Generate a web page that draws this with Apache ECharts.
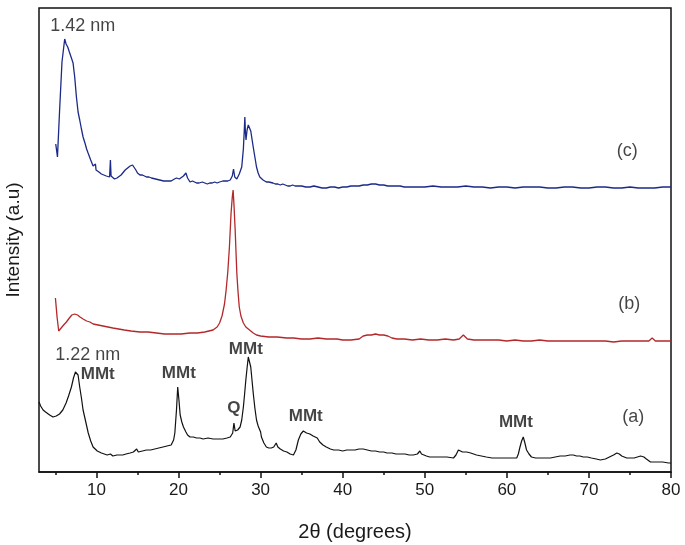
<!DOCTYPE html>
<html>
<head>
<meta charset="utf-8">
<script src="https://cdn.jsdelivr.net/npm/echarts@6/dist/echarts.min.js"></script>
<style>
html,body{margin:0;padding:0;background:#fff;}
#chart{width:685px;height:545px;}
</style>
</head>
<body>
<div id="chart"></div>
<script>
// 2θ (degrees) vs intensity (a.u.), traces offset vertically as in the figure
var traceC = [
[5.04,328],[5.25,315],[5.5,360],[5.8,410],[6.13,433],[6.3,428],[6.5,425],[6.7,420],[6.95,414],[7.15,409],[7.35,395],[7.56,375],[7.76,360],[7.96,352],[8.17,343],[8.37,335],[8.6,329],[8.8,323],[8.98,319],[9.3,312],[9.59,306],[9.8,304],[9.88,308],[9.95,302],[10.3,300],[10.6,298],[10.8,297],[11.2,296],[11.6,295],[11.7,312],[11.78,296],[12.0,294],[12.2,293],[12.5,294],[12.7,295],[13.0,297],[13.2,299],[13.5,302],[13.8,304],[14.1,306],[14.4,307],[14.6,305],[14.8,302],[15.0,299],[15.3,297],[15.6,297],[15.8,296],[16.1,295],[16.4,295],[16.7,294],[16.9,294],[17.2,293],[17.4,293],[17.7,292],[17.9,292],[18.2,291],[18.4,292],[18.7,291],[18.9,291],[19.1,291],[19.3,292],[19.5,293],[19.75,294],[19.9,293],[20.1,293],[20.3,293],[20.6,296],[20.9,299],[21.1,294],[21.4,290],[21.7,291],[21.9,290],[22.2,289],[22.5,289],[22.9,290],[23.2,289],[23.5,288],[23.8,289],[24.1,289],[24.4,290],[24.7,289],[25.0,290],[25.4,291],[25.7,291],[26.0,291],[26.3,292],[26.55,296],[26.7,303],[26.85,295],[27.1,293],[27.4,298],[27.7,305],[27.9,323],[28.0,340],[28.08,355],[28.15,340],[28.22,332],[28.35,342],[28.5,347],[28.65,345],[28.8,341],[28.95,333],[29.1,325],[29.3,315],[29.5,305],[29.7,299],[29.9,295],[30.1,293],[30.3,292],[30.7,290],[31.0,290],[31.2,289],[31.5,289],[31.8,288],[32.1,288],[32.4,287],[32.7,288],[33.0,287],[33.3,286],[33.6,286],[33.9,287],[34.2,286],[34.6,286],[35.0,286],[35.5,285],[36.0,285],[36.5,286],[37.0,285],[37.5,284],[38.0,284],[38.5,285],[39.0,285],[39.5,284],[40.0,285],[40.5,285],[41.0,286],[41.5,286],[42.0,286],[42.5,287],[43.0,287],[43.5,288],[44.0,288],[44.5,287],[45.0,287],[45.5,286],[46.0,286],[46.5,286],[47.0,286],[47.5,285],[48.0,285],[49.0,285],[50.0,285],[51.0,286],[52.0,285],[53.0,285],[54.0,285],[55.0,286],[56.0,285],[57.0,285],[58.0,284],[59.0,285],[60.0,285],[61.0,284],[62.0,285],[63.0,285],[64.0,285],[65.0,284],[66.0,284],[67.0,285],[68.0,285],[69.0,284],[70.0,284],[71.0,285],[72.0,285],[73.0,284],[74.0,284],[75.0,285],[76.0,284],[77.0,284],[78.0,284],[79.0,285],[80.0,285]
];
var traceB = [
[5.0,174],[5.2,155],[5.4,141],[5.7,144],[6.0,147],[6.34,150],[6.7,154],[7.0,157],[7.35,158],[7.7,157],[8.0,155],[8.37,153],[8.8,151],[9.2,150],[9.6,148],[10.2,147],[10.8,146],[11.4,145],[12.0,144],[12.7,143],[13.4,142],[14.2,141],[15.3,140],[16.3,140],[17.3,139],[18.3,138],[19.3,138],[20.3,138],[21.4,139],[22.3,139],[23.2,140],[24.2,142],[24.7,145],[25.0,149],[25.3,156],[25.6,168],[25.8,182],[26.0,200],[26.2,225],[26.4,259],[26.55,275],[26.65,282],[26.75,268],[26.9,242],[27.1,199],[27.25,180],[27.4,165],[27.6,156],[27.9,149],[28.2,145],[28.5,143],[28.8,141],[29.1,139],[29.5,137],[30.0,136],[31.0,135],[32.0,135],[33.2,134],[34.0,134],[35.0,133],[36.0,133],[37.0,134],[38.0,133],[39.3,133],[40.0,132],[41.0,132],[42.0,133],[42.5,136],[43.0,137],[43.5,137],[44.0,138],[44.5,137],[45.0,137],[45.5,136],[46.0,134],[46.6,133],[47.5,133],[48.5,132],[49.5,133],[50.5,132],[51.5,132],[52.5,133],[53.5,132],[54.2,133],[54.7,137],[55.2,133],[56.0,132],[57.0,132],[58.0,132],[59.0,132],[60.0,131],[61.0,132],[62.0,131],[63.0,131],[64.0,132],[65.0,131],[66.0,131],[67.0,131],[68.0,131],[69.0,131],[70.0,131],[71.0,131],[72.0,131],[73.0,130],[74.0,131],[75.0,131],[76.0,131],[77.3,131],[77.7,134],[78.1,131],[79.0,131],[80.0,131]
];
var traceA = [
[3.0,70],[3.2,66],[3.5,62],[3.8,60],[4.0,58],[4.3,57],[4.7,55],[5.1,56],[5.5,58],[5.9,62],[6.3,69],[6.6,76],[6.95,85],[7.2,94],[7.44,100],[7.6,98],[7.76,97],[7.96,85],[8.17,74],[8.37,62],[8.7,50],[9.0,39],[9.3,31],[9.59,25],[10.1,21],[10.6,19],[11.3,17],[11.7,18],[12.0,16],[12.5,17],[13.2,17],[13.6,18],[14.1,19],[14.5,20],[14.9,23],[15.1,20],[15.6,21],[16.1,22],[16.6,22],[17.1,23],[17.6,24],[18.1,25],[18.6,26],[19.1,27],[19.4,32],[19.55,39],[19.75,62],[19.9,85],[20.05,72],[20.2,57],[20.4,50],[20.6,45],[20.75,44],[20.9,40],[21.1,37],[21.4,35],[21.8,35],[22.2,34],[22.6,34],[23.0,33],[23.6,34],[24.2,33],[24.8,33],[25.4,33],[25.9,34],[26.3,35],[26.6,39],[26.75,49],[26.9,41],[27.0,39],[27.2,42],[27.5,45],[27.7,52],[27.9,65],[28.05,78],[28.2,92],[28.35,104],[28.5,115],[28.65,110],[28.8,105],[28.95,92],[29.1,79],[29.3,64],[29.5,52],[29.7,46],[29.8,44],[29.9,47],[30.0,40],[30.1,35],[30.4,29],[30.7,25],[31.0,24],[31.3,24],[31.6,25],[31.9,29],[32.1,25],[32.4,23],[32.8,21],[33.2,20],[33.6,18],[34.0,17],[34.3,22],[34.6,32],[34.9,38],[35.2,41],[35.6,39],[36.0,38],[36.2,37],[36.4,36],[36.6,38],[36.9,34],[37.2,30],[37.6,27],[38.0,25],[38.5,23],[38.9,22],[39.5,22],[40.0,21],[40.5,22],[41.0,22],[41.5,22],[42.0,23],[42.5,23],[43.0,22],[43.5,21],[44.0,21],[44.5,20],[45.0,20],[45.4,19],[46.0,19],[46.5,18],[47.0,18],[47.6,18],[48.1,17],[48.6,17],[49.1,18],[49.4,21],[49.6,18],[49.8,17],[50.2,16],[50.6,15],[51.2,15],[52.0,15],[52.7,15],[53.5,14],[53.8,17],[54.1,22],[54.6,20],[55.1,20],[55.6,19],[56.3,17],[56.9,16],[57.5,15],[58.2,14],[58.8,14],[59.4,14],[60.0,14],[60.6,14],[61.2,14],[61.4,18],[61.6,25],[61.8,31],[62.0,35],[62.2,29],[62.4,22],[62.7,18],[63.0,15],[63.5,14],[64.0,14],[64.6,14],[65.3,14],[65.9,15],[66.5,16],[67.1,16],[67.7,17],[68.1,17],[68.5,16],[68.9,16],[69.3,15],[69.8,15],[70.3,14],[70.9,13],[71.4,12],[72.0,13],[72.5,15],[73.0,17],[73.4,19],[73.7,18],[74.0,16],[74.6,14],[75.0,14],[75.5,14],[75.9,15],[76.3,16],[76.7,15],[77.0,13],[77.5,10],[78.0,10],[78.5,10],[79.0,10],[79.7,9],[80.0,9]
];
var majorTicks = [10,20,30,40,50,60,70,80];
var minorTicks = [5,15,25,35,45,55,65,75];
// annotations: [x, y, text]
var plainNotes = [
[8.33,446,'1.42 nm'],[74.66,321,'(c)'],[74.9,168,'(b)'],[75.4,55,'(a)'],[8.94,117,'1.22 nm']
];
var boldNotes = [
[10.16,98,'MMt'],[20.04,99,'MMt'],[28.2,123,'MMt'],[26.74,64,'Q'],[35.5,56,'MMt'],[61.1,50,'MMt']
];

var FONT = "'Liberation Sans', Arial, sans-serif";
var chart = echarts.init(document.getElementById('chart'), null, {renderer:'canvas'});

function noteSeries(arr, bold, size){
  return {
    type:'scatter', symbolSize:0, silent:true, z:5,
    data: arr.map(function(d){return {value:[d[0],d[1]], name:d[2]};}),
    label:{show:true, position:'inside', formatter:function(p){return p.name;},
      color:'#151515', fontFamily:FONT, fontSize:size, fontWeight: bold?'bold':'normal',
      align:'center', verticalAlign:'middle'}
  };
}

chart.setOption({
  animation:false,
  backgroundColor:'#fff',
  grid:{left:39, right:14, top:8, bottom:73, outerBoundsMode:'none', containLabel:false,
    show:true, borderColor:'#111', borderWidth:1.5, backgroundColor:'transparent'},
  xAxis:[{
    type:'value', min:3, max:80, gridIndex:0, position:'bottom',
    name:'2\u03b8 (degrees)', nameLocation:'middle', nameGap:50,
    nameTextStyle:{fontFamily:FONT, fontSize:20, color:'#1a1a1a'},
    axisLine:{show:true, lineStyle:{color:'#111', width:1.5}},
    axisTick:{show:true, inside:false, length:6, customValues:majorTicks, lineStyle:{color:'#111', width:1.5}},
    axisLabel:{show:true, customValues:majorTicks, margin:10, fontFamily:FONT, fontSize:17, color:'#1a1a1a'},
    splitLine:{show:false}
  },{
    type:'value', min:3, max:80, gridIndex:0, position:'bottom',
    axisLine:{show:false},
    axisTick:{show:true, inside:false, length:3, customValues:minorTicks, lineStyle:{color:'#111', width:1.5}},
    axisLabel:{show:false},
    splitLine:{show:false}
  }],
  yAxis:{
    type:'value', min:0, max:464,
    name:'Intensity (a.u)', nameLocation:'middle', nameGap:16, nameRotate:90,
    nameTextStyle:{fontFamily:FONT, fontSize:19, color:'#1a1a1a'},
    axisLine:{show:false}, axisTick:{show:false}, axisLabel:{show:false}, splitLine:{show:false}
  },
  series:[
    {type:'line', data:traceC, showSymbol:false, symbol:'none', lineStyle:{color:'#1b2a86', width:1.3}},
    {type:'line', data:traceB, showSymbol:false, symbol:'none', lineStyle:{color:'#b3282a', width:1.3}},
    {type:'line', data:traceA, showSymbol:false, symbol:'none', lineStyle:{color:'#111111', width:1.2}},
    noteSeries(plainNotes, false, 18),
    noteSeries(boldNotes, true, 17)
  ]
});
</script>
</body>
</html>
